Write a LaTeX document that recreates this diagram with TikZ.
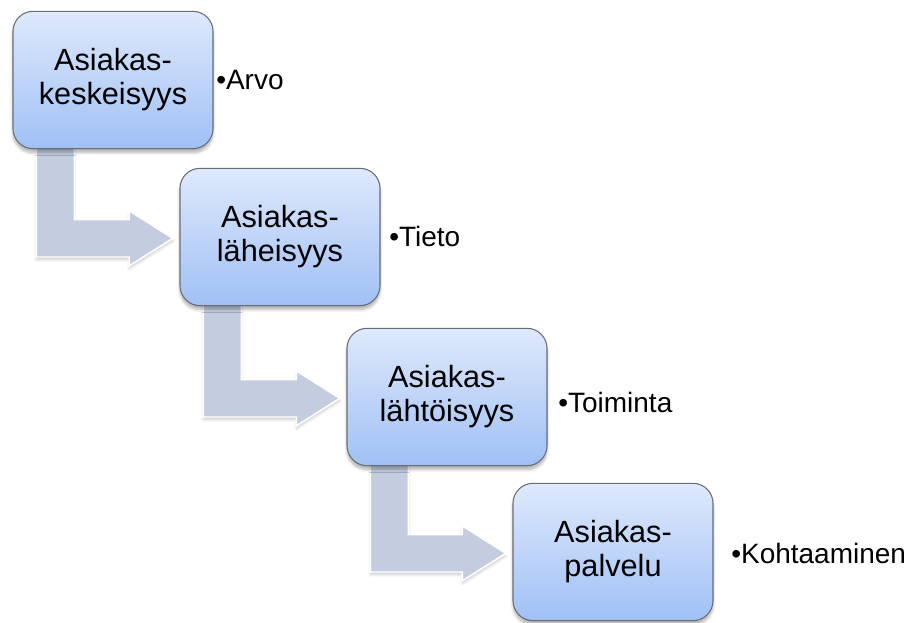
\documentclass[tikz,border=0pt]{standalone}
\usepackage{fontspec}
\setmainfont{Liberation Sans}
\usetikzlibrary{calc,shadows.blur,backgrounds}

\definecolor{boxtop}{RGB}{222,233,252}
\definecolor{boxbot}{RGB}{160,192,245}
\definecolor{boxline}{RGB}{105,110,118}
\definecolor{arrowgray}{RGB}{196,205,224}

\tikzset{
  stagebox/.style={draw=boxline, line width=0.8pt, rounded corners=15pt,
    minimum width=150pt, minimum height=103pt, align=center,
    top color=boxtop, bottom color=boxbot,
    font=\fontsize{23}{25.5}\selectfont,
    blur shadow={shadow xshift=0pt, shadow yshift=-3pt, shadow opacity=30, shadow blur steps=6}},
  bulletlabel/.style={anchor=base west, inner sep=0pt, font=\fontsize{21}{24}\selectfont},
  bendfill/.style={fill=arrowgray, draw=white, line width=1.1pt,
    blur shadow={shadow xshift=0pt, shadow yshift=-2pt, shadow opacity=20, shadow blur steps=4}}
}

\begin{document}
\begin{tikzpicture}[x=0.75pt, y=-0.75pt]
\useasboundingbox (0,0) rectangle (913,623);

% stages
\node[stagebox] at (113,80)  (s1) {Asiakas-\\keskeisyys};
\node[stagebox] at (280,237) (s2) {Asiakas-\\läheisyys};
\node[stagebox] at (447,397) (s3) {Asiakas-\\lähtöisyys};
\node[stagebox] at (613,552) (s4) {Asiakas-\\palvelu};

% bent arrows between stages
\begin{scope}[on background layer]
\foreach \a/\b in {s1/s2, s2/s3, s3/s4}{
  \fill[bendfill] let \p1=(\a.south west), \p2=(\b.west) in
    (\x1+18pt,\y1+8pt) -- (\x1+18pt,\y2-15pt) -- (\x2-37.5pt,\y2-15pt)
    -- (\x2-37.5pt,\y2-21.5pt) -- (\x2-5pt,\y2-1pt) -- (\x2-37.5pt,\y2+19.5pt)
    -- (\x2-37.5pt,\y2+13pt) -- (\x1+46.5pt,\y2+13pt) -- (\x1+46.5pt,\y1+8pt) -- cycle;
}
\end{scope}

% side labels
\node[bulletlabel] (l1) at (216,90)  {•Arvo};
\node[bulletlabel] (l2) at (389,247) {•Tieto};
\node[bulletlabel] (l3) at (558,412) {•Toiminta};
\node[bulletlabel] (l4) at (731,563) {•Kohtaaminen};

\end{tikzpicture}
\end{document}
